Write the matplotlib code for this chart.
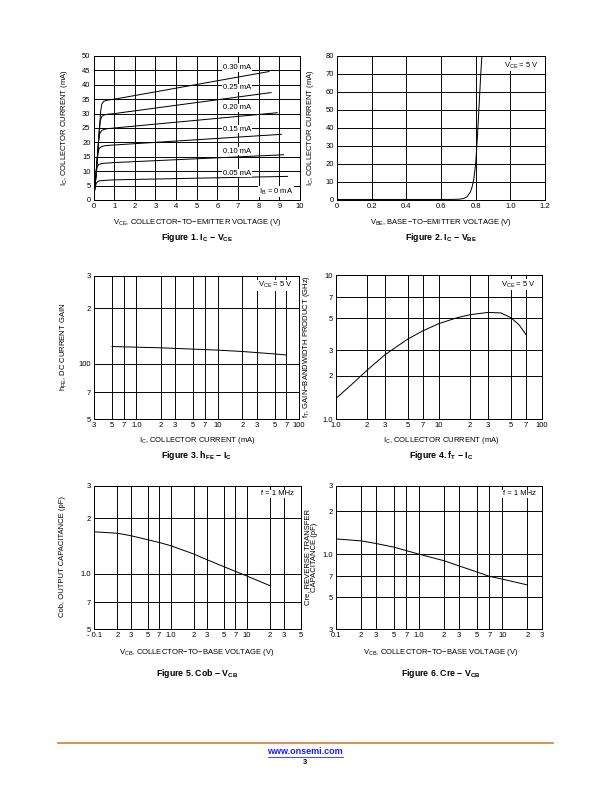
import matplotlib
matplotlib.use("Agg")
import matplotlib.pyplot as plt

plt.rcParams['font.family'] = ['Liberation Sans', 'DejaVu Sans']
plt.rcParams['mathtext.fontset'] = 'custom'
plt.rcParams['mathtext.rm'] = 'Liberation Sans'
plt.rcParams['mathtext.it'] = 'Liberation Sans:italic'
plt.rcParams['mathtext.bf'] = 'Liberation Sans:bold'

# ---------------- data ----------------
# Figure 1: IC vs VCE for several IB
ib_labels = ["0.30 mA", "0.25 mA", "0.20 mA", "0.15 mA", "0.10 mA", "0.05 mA"]
vce_030 = [0, 0.1, 0.2, 0.3, 0.35, 0.4, 0.5, 0.7, 1.0, 8.5]
ic_030 = [0, 7, 16, 26, 31, 33.3, 34.3, 34.7, 35, 44.6]
vce_025 = [0, 0.1, 0.2, 0.27, 0.33, 0.4, 0.5, 0.7, 1.0, 8.6]
ic_025 = [0, 7, 16, 23.5, 27.5, 29, 29.5, 29.8, 30, 37.3]
vce_020 = [0, 0.1, 0.2, 0.25, 0.3, 0.4, 0.6, 1.0, 8.9]
ic_020 = [0, 7, 16, 20.5, 23, 24.2, 24.7, 25, 30.3]
vce_015 = [0, 0.1, 0.17, 0.22, 0.28, 0.4, 0.6, 1.0, 9.1]
ic_015 = [0, 7, 13, 16.5, 18, 18.6, 18.9, 19.1, 22.8]
vce_010 = [0, 0.08, 0.13, 0.18, 0.25, 0.4, 1.0, 9.2]
ic_010 = [0, 5.5, 9.5, 11.5, 12.3, 12.7, 13, 15.7]
vce_005 = [0, 0.05, 0.1, 0.15, 0.25, 0.5, 1.0, 9.4]
ic_005 = [0, 3, 5, 6, 6.6, 6.8, 7, 8.2]
label_y = [46, 39, 32, 24.5, 17, 9.3]

# Figure 2: IC vs VBE
vbe = [0, 0.65, 0.70, 0.73, 0.75, 0.77, 0.78, 0.79, 0.80, 0.81, 0.82, 0.83, 0.836]
ic_vbe = [0.3, 0.3, 0.4, 0.8, 1.8, 4.5, 7.5, 12, 20, 35, 53, 71, 80]

# Figure 3: hFE vs IC
ic_hfe = [0.5, 1, 2, 5, 10, 20, 50, 70]
hfe = [124, 123, 122, 120, 118.5, 116.5, 113, 111.5]

# Figure 4: fT vs IC
ic_ft = [1, 1.5, 2, 3, 5, 7, 10, 15, 20, 30, 40, 50, 60, 70]
ft = [1.39, 1.8, 2.18, 2.8, 3.6, 4.1, 4.6, 5.05, 5.3, 5.5, 5.45, 5.05, 4.5, 3.85]

# Figure 5: Cob vs VCB
vcb_cob = [0.1, 0.2, 0.3, 0.5, 0.7, 1, 2, 3, 5, 7, 10, 20]
cob = [1.69, 1.66, 1.61, 1.53, 1.48, 1.42, 1.28, 1.19, 1.09, 1.03, 0.97, 0.86]

# Figure 6: Cre vs VCB
vcb_cre = [0.1, 0.2, 0.3, 0.5, 0.7, 1, 2, 3, 5, 7, 10, 20]
cre = [1.28, 1.24, 1.19, 1.12, 1.06, 1.0, 0.90, 0.83, 0.75, 0.70, 0.67, 0.61]

# tick definitions
f3_xticks = [0.3, 0.5, 0.7, 1, 2, 3, 5, 7, 10, 20, 30, 50, 70, 100]
f3_xlabels = ["3", "5", "7", "1.0", "2", "3", "5", "7", "10", "2", "3", "5", "7", "100"]
f3_yticks = [50, 70, 100, 200, 300]
f3_ylabels = ["5", "7", "100", "2", "3"]
f4_xticks = [1, 2, 3, 5, 7, 10, 20, 30, 50, 70, 100]
f4_xlabels = ["1.0", "2", "3", "5", "7", "10", "2", "3", "5", "7", "100"]
f4_yticks = [1, 2, 3, 5, 7, 10]
f4_ylabels = ["1.0", "2", "3", "5", "7", "10"]
f5_xticks = [0.1, 0.2, 0.3, 0.5, 0.7, 1, 2, 3, 5, 7, 10, 20, 30, 50]
f5_xlabels = ["- 0.1", "2", "3", "5", "7", "1.0", "2", "3", "5", "7", "10", "2", "3", "5"]
f5_yticks = [0.5, 0.7, 1.0, 2, 3]
f5_ylabels = ["5", "7", "1.0", "2", "3"]
f6_xticks = [0.1, 0.2, 0.3, 0.5, 0.7, 1, 2, 3, 5, 7, 10, 20, 30]
f6_xlabels = ["0.1", "2", "3", "5", "7", "1.0", "2", "3", "5", "7", "10", "2", "3"]
f6_yticks = [0.3, 0.5, 0.7, 1.0, 2, 3]
f6_ylabels = ["3", "5", "7", "1.0", "2", "3"]

# ---------------- figure ----------------
W, H = 612, 792
fig = plt.figure(figsize=(W / 72, H / 72), dpi=72)
FS = 7.6
CFS = 8.8


def add_ax(l, r, t, b):
    return fig.add_axes([l / W, 1 - b / H, (r - l) / W, (b - t) / H])


def style(ax):
    ax.grid(True, color='black', lw=0.95)
    ax.set_axisbelow(True)
    ax.minorticks_off()
    ax.tick_params(length=0, labelsize=FS, pad=3)
    for s in ax.spines.values():
        s.set_linewidth(1.0)


def ftext(x, y, s, **kw):
    kw.setdefault('fontsize', FS)
    fig.text(x / W, 1 - y / H, s, ha=kw.pop('ha', 'center'), va=kw.pop('va', 'center'), **kw)


def corner(ax, s):
    ax.text(0.97, 0.97, s, transform=ax.transAxes, ha='right', va='top', fontsize=FS,
            bbox=dict(facecolor='white', edgecolor='none', pad=0.6), zorder=5)


# Figure 1
ax1 = add_ax(93.5, 300, 56, 200)
style(ax1)
ax1.set_xlim(0, 10)
ax1.set_ylim(0, 50)
ax1.set_xticks(range(0, 11))
ax1.set_yticks(range(0, 51, 5))
for vx, iy in [(vce_030, ic_030), (vce_025, ic_025), (vce_020, ic_020),
               (vce_015, ic_015), (vce_010, ic_010), (vce_005, ic_005)]:
    ax1.plot(vx, iy, color='black', lw=1.0, zorder=3)
for lab, ly in zip(ib_labels, label_y):
    ax1.text(6.95, ly, lab, ha='center', va='center', fontsize=FS,
             bbox=dict(facecolor='white', edgecolor='none', pad=0.5), zorder=4)
ax1.text(8.0, 2.9, r"I$_\mathregular{B}$ = 0 mA", ha='left', va='center', fontsize=FS,
         bbox=dict(facecolor='white', edgecolor='none', pad=0.5), zorder=4)
ftext(64, 128, r"I$_\mathregular{C}$, COLLECTOR CURRENT (mA)", rotation=90)
ftext(197, 223, r"V$_\mathregular{CE}$, COLLECTOR−TO−EMITTER VOLTAGE (V)")
ftext(197, 238, r"Figure 1. I$_\mathregular{C}$ − V$_\mathregular{CE}$", fontweight='bold', fontsize=CFS)

# Figure 2
ax2 = add_ax(337, 545, 56, 200)
style(ax2)
ax2.set_xlim(0, 1.2)
ax2.set_ylim(0, 80)
ax2.set_xticks([0, 0.2, 0.4, 0.6, 0.8, 1.0, 1.2])
ax2.set_xticklabels(["0", "0.2", "0.4", "0.6", "0.8", "1.0", "1.2"])
ax2.set_yticks(range(0, 81, 10))
ax2.plot(vbe, ic_vbe, color='black', lw=1.0, zorder=3)
corner(ax2, r"V$_\mathregular{CE}$ = 5 V")
ftext(310, 128, r"I$_\mathregular{C}$, COLLECTOR CURRENT (mA)", rotation=90)
ftext(441, 223, r"V$_\mathregular{BE}$, BASE−TO−EMITTER VOLTAGE (V)")
ftext(441, 238, r"Figure 2. I$_\mathregular{C}$ − V$_\mathregular{BE}$", fontweight='bold', fontsize=CFS)

# Figure 3
ax3 = add_ax(94, 299, 276, 419)
ax3.set_xscale('log')
ax3.set_yscale('log')
style(ax3)
ax3.set_xlim(0.3, 100)
ax3.set_ylim(50, 300)
ax3.set_xticks(f3_xticks)
ax3.set_xticklabels(f3_xlabels)
ax3.set_yticks(f3_yticks)
ax3.set_yticklabels(f3_ylabels)
ax3.minorticks_off()
ax3.plot(ic_hfe, hfe, color='black', lw=1.0, zorder=3)
corner(ax3, r"V$_\mathregular{CE}$ = 5 V")
ftext(64, 347, r"h$_\mathregular{FE}$, DC CURRENT GAIN", rotation=90)
ftext(197, 440, r"I$_\mathregular{C}$, COLLECTOR CURRENT (mA)")
ftext(197, 455, r"Figure 3. h$_\mathregular{FE}$ − I$_\mathregular{C}$", fontweight='bold', fontsize=CFS)

# Figure 4
ax4 = add_ax(336, 542, 275, 419)
ax4.set_xscale('log')
ax4.set_yscale('log')
style(ax4)
ax4.set_xlim(1, 100)
ax4.set_ylim(1, 10)
ax4.set_xticks(f4_xticks)
ax4.set_xticklabels(f4_xlabels)
ax4.set_yticks(f4_yticks)
ax4.set_yticklabels(f4_ylabels)
ax4.minorticks_off()
ax4.plot(ic_ft, ft, color='black', lw=1.0, zorder=3)
corner(ax4, r"V$_\mathregular{CE}$ = 5 V")
ftext(307, 347, r"f$_\mathregular{T}$, GAIN−BANDWIDTH PRODUCT (GHz)", rotation=90)
ftext(441, 440, r"I$_\mathregular{C}$, COLLECTOR CURRENT (mA)")
ftext(441, 455, r"Figure 4. f$_\mathregular{T}$ − I$_\mathregular{C}$", fontweight='bold', fontsize=CFS)

# Figure 5
ax5 = add_ax(94.3, 300.5, 486, 629)
ax5.set_xscale('log')
ax5.set_yscale('log')
style(ax5)
ax5.set_xlim(0.1, 50)
ax5.set_ylim(0.5, 3)
ax5.set_xticks(f5_xticks)
ax5.set_xticklabels(f5_xlabels)
ax5.set_yticks(f5_yticks)
ax5.set_yticklabels(f5_ylabels)
ax5.minorticks_off()
ax5.plot(vcb_cob, cob, color='black', lw=1.0, zorder=3)
corner(ax5, "f = 1 MHz")
ftext(63, 557, "Cob, OUTPUT CAPACITANCE (pF)", rotation=90)
ftext(197, 653, r"V$_\mathregular{CB}$, COLLECTOR−TO−BASE VOLTAGE (V)")
ftext(197, 674, r"Figure 5. Cob − V$_\mathregular{CB}$", fontweight='bold', fontsize=CFS)

# Figure 6
ax6 = add_ax(336, 542, 486, 629)
ax6.set_xscale('log')
ax6.set_yscale('log')
style(ax6)
ax6.set_xlim(0.1, 30)
ax6.set_ylim(0.3, 3)
ax6.set_xticks(f6_xticks)
ax6.set_xticklabels(f6_xlabels)
ax6.set_yticks(f6_yticks)
ax6.set_yticklabels(f6_ylabels)
ax6.minorticks_off()
ax6.plot(vcb_cre, cre, color='black', lw=1.0, zorder=3)
corner(ax6, "f = 1 MHz")
ftext(311, 557, "Cre, REVERSE TRANSFER\nCAPACITANCE (pF)", rotation=90, linespacing=1.1)
ftext(441, 653, r"V$_\mathregular{CB}$, COLLECTOR−TO−BASE VOLTAGE (V)")
ftext(441, 674, r"Figure 6. Cre − V$_\mathregular{CB}$", fontweight='bold', fontsize=CFS)

# footer
fig.add_artist(plt.Line2D([58 / W, 553 / W], [1 - 743 / H, 1 - 743 / H], color='#D9782D', lw=1.6))
ftext(305, 751, "www.onsemi.com", color='#1a1aff', fontweight='bold', fontsize=9)
fig.add_artist(plt.Line2D([268 / W, 343 / W], [1 - 756.5 / H, 1 - 756.5 / H], color='#1a1aff', lw=0.8))
ftext(305, 762, "3", fontweight='bold', fontsize=7.5)

fig.savefig("out.png", dpi=72)
